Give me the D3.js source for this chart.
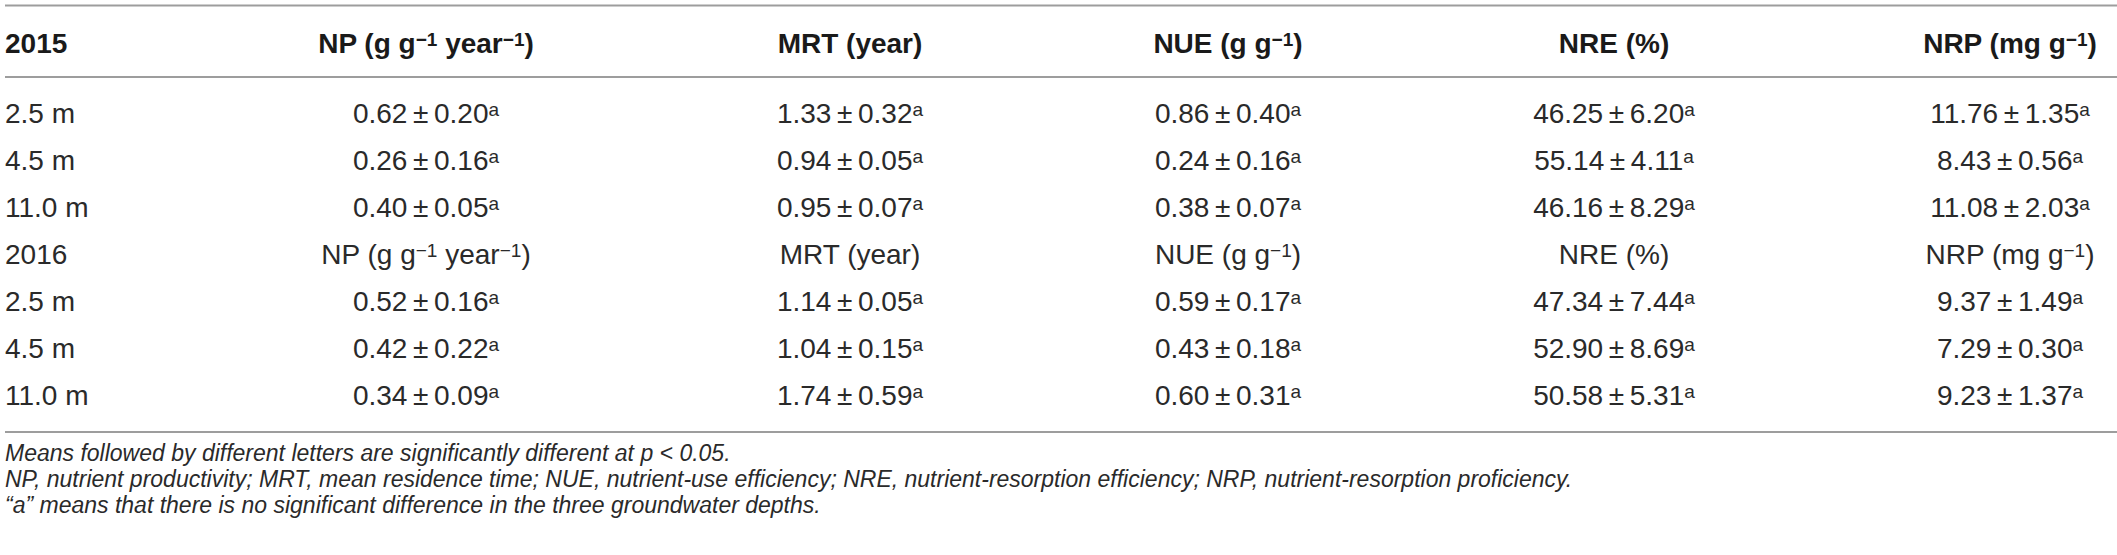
<!DOCTYPE html>
<html lang="en">
<head>
<meta charset="UTF-8">
<title>Nutrient indices by groundwater depth</title>
<script src="https://d3js.org/d3.v7.min.js"></script>
<style>
  body { margin: 0; background: #fff; }
  svg { display: block; font-family: "Liberation Sans", Arial, Helvetica, sans-serif; }
  .head { font-weight: bold; fill: #1a1a1a; }
  .cell { fill: #2a2a2a; }
  .note { font-style: italic; fill: #2a2a2a; }
  .rule { stroke: #9d9d9d; stroke-width: 2; }
</style>
</head>
<body>
<svg id="table" width="2117" height="555"></svg>
<script>
// table content
const years = ["2015", "2016"];
const depths = ["2.5 m", "4.5 m", "11.0 m"];
const metrics = ["NP", "MRT", "NUE", "NRE", "NRP"];
// header labels, [text, superscript?]
const metricLabels = [
  [["NP (g g", 0], ["\u22121", 1], [" year", 0], ["\u22121", 1], [")", 0]],
  [["MRT (year)", 0]],
  [["NUE (g g", 0], ["\u22121", 1], [")", 0]],
  [["NRE (%)", 0]],
  [["NRP (mg g", 0], ["\u22121", 1], [")", 0]]
];

// means and standard errors, one entry per depth
const np2015  = [0.62, 0.26, 0.40],  npSe2015  = [0.20, 0.16, 0.05];
const mrt2015 = [1.33, 0.94, 0.95],  mrtSe2015 = [0.32, 0.05, 0.07];
const nue2015 = [0.86, 0.24, 0.38],  nueSe2015 = [0.40, 0.16, 0.07];
const nre2015 = [46.25, 55.14, 46.16], nreSe2015 = [6.20, 4.11, 8.29];
const nrp2015 = [11.76, 8.43, 11.08], nrpSe2015 = [1.35, 0.56, 2.03];

const np2016  = [0.52, 0.42, 0.34],  npSe2016  = [0.16, 0.22, 0.09];
const mrt2016 = [1.14, 1.04, 1.74],  mrtSe2016 = [0.05, 0.15, 0.59];
const nue2016 = [0.59, 0.43, 0.60],  nueSe2016 = [0.17, 0.18, 0.31];
const nre2016 = [47.34, 52.90, 50.58], nreSe2016 = [7.44, 8.69, 5.31];
const nrp2016 = [9.37, 7.29, 9.23],  nrpSe2016 = [1.49, 0.30, 1.37];

// significance letters (same for every cell)
const letters = ["a", "a", "a"];

const footnotes = [
  "Means followed by different letters are significantly different at p < 0.05.",
  "NP, nutrient productivity; MRT, mean residence time; NUE, nutrient-use efficiency; NRE, nutrient-resorption efficiency; NRP, nutrient-resorption proficiency.",
  "\u201ca\u201d means that there is no significant difference in the three groundwater depths."
];

// build the cell rows from the arrays above
const byYear = {
  "2015": [[np2015, npSe2015], [mrt2015, mrtSe2015], [nue2015, nueSe2015], [nre2015, nreSe2015], [nrp2015, nrpSe2015]],
  "2016": [[np2016, npSe2016], [mrt2016, mrtSe2016], [nue2016, nueSe2016], [nre2016, nreSe2016], [nrp2016, nrpSe2016]]
};
const rows = [];
years.forEach((yr, yi) => {
  if (yi > 0) rows.push({ type: "subhead", label: yr });
  depths.forEach((d, di) => {
    rows.push({
      type: "data",
      label: d,
      cells: byYear[yr].map(([m, s]) => ({ mean: m[di], se: s[di], letter: letters[di] }))
    });
  });
});

const svg = d3.select("#table");
const W = +svg.attr("width");
const fontSize = 28;

const x = d3.scaleOrdinal().domain(metrics).range([426, 850, 1228, 1614, 2010]);
const y = d3.scaleLinear().domain([0, rows.length - 1]).range([123, 405]);
const headY = 53;

// writes [text, sup] segments into a text element
function rich(sel, segs) {
  segs.forEach(([t, sup]) => {
    sel.append("tspan")
      .attr("font-size", sup ? "0.68em" : null)
      .attr("baseline-shift", sup ? "38%" : null)
      .text(t);
  });
}

// horizontal rules
svg.selectAll("line.rule")
  .data([5.5, 77, 432])
  .join("line")
  .attr("class", "rule")
  .attr("x1", 5).attr("x2", W)
  .attr("y1", d => d).attr("y2", d => d);

// header row
svg.append("text").attr("class", "head")
  .attr("x", 5).attr("y", headY).attr("font-size", fontSize)
  .text(years[0]);
metrics.forEach((m, i) => {
  svg.append("text").attr("class", "head")
    .attr("x", x(m)).attr("y", headY)
    .attr("font-size", fontSize).attr("text-anchor", "middle")
    .call(rich, metricLabels[i]);
});

// body rows
const rowG = svg.selectAll("g.row")
  .data(rows)
  .join("g")
  .attr("class", "row")
  .attr("transform", (d, i) => `translate(0,${y(i)})`);

rowG.append("text").attr("class", "cell")
  .attr("x", 5).attr("font-size", fontSize)
  .text(d => d.label);

rowG.each(function(r) {
  const g = d3.select(this);
  metrics.forEach((m, i) => {
    const t = g.append("text").attr("class", "cell")
      .attr("x", x(m)).attr("font-size", fontSize)
      .attr("text-anchor", "middle");
    if (r.type === "subhead") {
      rich(t, metricLabels[i]);
    } else {
      const c = r.cells[i];
      rich(t, [[`${c.mean.toFixed(2)}\u2009\u00b1\u2009${c.se.toFixed(2)}`, 0], [c.letter, 1]]);
    }
  });
});

// footnotes
svg.selectAll("text.note")
  .data(footnotes)
  .join("text")
  .attr("class", "note")
  .attr("x", 5)
  .attr("y", (d, i) => 461 + i * 26)
  .attr("font-size", 23)
  .text(d => d);
</script>
</body>
</html>
